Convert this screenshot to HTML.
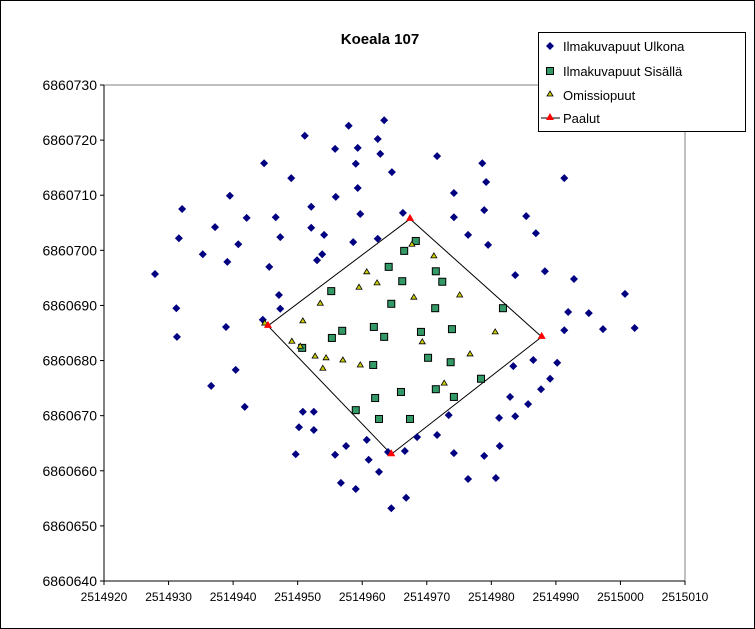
<!DOCTYPE html>
<html><head><meta charset="utf-8"><style>
html,body{margin:0;padding:0;background:#fff;}
svg{display:block;font-family:"Liberation Sans",Arial,sans-serif;}
</style></head><body>
<svg id="chart" width="755" height="629" viewBox="0 0 755 629">
<rect x="0.5" y="0.5" width="754" height="628" fill="#fff" stroke="#000"/>
<text x="380" y="44" text-anchor="middle" font-size="15" font-weight="bold">Koeala 107</text>
<rect x="104" y="85" width="581" height="496" fill="#fff" stroke="#808080"/>
<g id="axes"></g>
<g id="marks"></g>
<g>
<rect x="538.5" y="32.5" width="207" height="99" fill="#fff" stroke="#000"/>
<g><path d="M550,42 l4,4 l-4,4 l-4,-4z" fill="#000080"/><text x="563" y="51" font-size="13">Ilmakuvapuut Ulkona</text></g>
<g><rect x="546.5" y="67.5" width="7" height="7" fill="#339966" stroke="#000"/><text x="563" y="76" font-size="13">Ilmakuvapuut Sisällä</text></g>
<g><path d="M550,91 l3,5 l-6,0z" fill="#cccc00" stroke="#000" stroke-width="0.8"/><text x="563" y="100" font-size="13">Omissiopuut</text></g>
<g><line x1="541" y1="118" x2="560" y2="118" stroke="#000"/><path d="M550,113 l4,7 l-8,0z" fill="#f00"/><text x="563" y="123" font-size="13">Paalut</text></g>
</g>
</svg>
<script>
const xTicks=[2514920,2514930,2514940,2514950,2514960,2514970,2514980,2514990,2515000,2515010];
const yTicks=[6860640,6860650,6860660,6860670,6860680,6860690,6860700,6860710,6860720,6860730];
const ulkonaX=[2514963.4,2514957.9,2514951.1,2514962.4,2514955.8,2514959.3,2514962.8,2514944.8,2514959.0,2514964.6,2514949.0,2514959.3,2514939.5,2514955.9,2514932.1,2514952.1,2514959.7,2514942.1,2514946.6,2514937.2,2514931.6,2514947.3,2514952.1,2514954.1,2514958.6,2514962.4,2514940.8,2514935.3,2514939.1,2514953.8,2514953.0,2514945.6,2514927.9,2514947.1,2514931.2,2514947.3,2514944.6,2514938.9,2514931.3,2514971.6,2514978.6,2514979.2,2514991.3,2514974.2,2514966.3,2514974.2,2514978.9,2514985.4,2514986.9,2514976.4,2514979.5,2514983.7,2514988.3,2514992.8,2515000.7,2514991.9,2514995.1,2514991.3,2514997.3,2515002.2,2514940.4,2514936.6,2514941.8,2514950.8,2514952.5,2514950.2,2514952.5,2514960.7,2514957.5,2514949.7,2514955.8,2514961.0,2514964.0,2514962.6,2514956.7,2514959.0,2514964.5,2514986.5,2514990.2,2514983.4,2514989.1,2514987.7,2514982.9,2514985.7,2514981.2,2514983.7,2514973.4,2514968.5,2514971.6,2514966.6,2514974.2,2514978.9,2514981.3,2514976.4,2514980.7,2514966.8];
const ulkonaY=[6860723.6,6860722.6,6860720.8,6860720.2,6860718.4,6860718.6,6860717.5,6860715.8,6860715.7,6860714.2,6860713.1,6860711.3,6860709.9,6860709.7,6860707.5,6860707.9,6860706.6,6860705.9,6860706.0,6860704.2,6860702.2,6860702.4,6860704.1,6860702.8,6860701.5,6860702.1,6860701.1,6860699.3,6860697.9,6860699.3,6860698.2,6860697.0,6860695.7,6860691.9,6860689.5,6860689.4,6860687.4,6860686.1,6860684.3,6860717.1,6860715.8,6860712.4,6860713.1,6860710.4,6860706.8,6860706.0,6860707.3,6860706.2,6860703.1,6860702.8,6860701.0,6860695.5,6860696.2,6860694.8,6860692.1,6860688.8,6860688.6,6860685.5,6860685.7,6860685.9,6860678.3,6860675.4,6860671.6,6860670.7,6860670.7,6860667.9,6860667.4,6860665.6,6860664.5,6860663.0,6860662.9,6860662.0,6860663.4,6860659.8,6860657.8,6860656.7,6860653.2,6860680.1,6860679.6,6860679.0,6860676.7,6860674.8,6860673.4,6860672.1,6860669.6,6860669.9,6860670.1,6860666.1,6860666.5,6860663.6,6860663.2,6860662.7,6860664.5,6860658.5,6860658.7,6860655.1];
const sisallaX=[2514964.1,2514955.2,2514964.5,2514956.9,2514961.8,2514963.4,2514955.3,2514968.3,2514966.5,2514971.4,2514966.2,2514972.4,2514971.3,2514981.8,2514969.1,2514973.9,2514950.7,2514961.7,2514962.0,2514959.0,2514962.6,2514970.2,2514973.7,2514978.4,2514966.0,2514971.4,2514974.2,2514967.4];
const sisallaY=[6860697.0,6860692.6,6860690.3,6860685.4,6860686.1,6860684.3,6860684.1,6860701.7,6860699.9,6860696.2,6860694.4,6860694.3,6860689.5,6860689.5,6860685.2,6860685.7,6860682.3,6860679.2,6860673.2,6860671.0,6860669.4,6860680.5,6860679.7,6860676.7,6860674.3,6860674.8,6860673.4,6860669.4];
const omissioX=[2514960.7,2514962.3,2514959.5,2514953.5,2514950.8,2514944.9,2514967.7,2514971.1,2514968.0,2514975.1,2514980.6,2514949.1,2514950.4,2514952.7,2514954.4,2514957.0,2514953.9,2514959.7,2514969.3,2514976.7,2514972.7];
const omissioY=[6860696.1,6860694.1,6860693.3,6860690.4,6860687.2,6860686.8,6860701.1,6860699.0,6860691.5,6860691.9,6860685.2,6860683.5,6860682.6,6860680.8,6860680.5,6860680.1,6860678.6,6860679.2,6860683.4,6860681.2,6860675.9];
const paalutX=[2514967.4,2514987.8,2514964.5,2514945.4,2514967.4];
const paalutY=[6860705.7,6860684.3,6860663.0,6860686.3,6860705.7];

const NS='http://www.w3.org/2000/svg';
const X0=104,X1=685,Y0=581,Y1=85;
const xMin=2514920,xMax=2515010,yMin=6860640,yMax=6860730;
function sx(v){return X0+(v-xMin)/(xMax-xMin)*(X1-X0);}
function sy(v){return Y0-(v-yMin)/(yMax-yMin)*(Y0-Y1);}
function mk(tag,attrs,parent){const e=document.createElementNS(NS,tag);for(const k in attrs)e.setAttribute(k,attrs[k]);parent.appendChild(e);return e;}
const axes=document.getElementById('axes'),marks=document.getElementById('marks');
xTicks.forEach(t=>{
 const l=mk('line',{x1:sx(t),x2:sx(t),y1:581,y2:585,stroke:'#000'},axes);
 
 
 const tx=mk('text',{x:sx(t),y:601,'text-anchor':'middle','font-size':'12'},axes);
 tx.textContent=t;
 
 
});
yTicks.forEach(t=>{
 const l=mk('line',{x1:100,x2:104,y1:sy(t),y2:sy(t),stroke:'#000'},axes);
 
 
 const tx=mk('text',{x:97,y:sy(t)+5,'text-anchor':'end','font-size':'14'},axes);
 tx.textContent=t;
 
 
});
mk('line',{x1:104,x2:104,y1:85,y2:581,stroke:'#000'},axes);
mk('line',{x1:104,x2:685,y1:581,y2:581,stroke:'#000'},axes);
// poles line
let d='';paalutX.forEach((v,i)=>{d+=(i?'L':'M')+sx(v)+','+sy(paalutY[i]);});
const pl=mk('path',{d:d,fill:'none',stroke:'#000','stroke-width':'1'},marks);


ulkonaX.forEach((v,i)=>{
 const x=sx(v),y=sy(ulkonaY[i]);
 const p=mk('path',{d:`M${x},${y-4}l4,4l-4,4l-4,-4z`,fill:'#000080'},marks);
 
 
});
sisallaX.forEach((v,i)=>{
 const x=sx(v),y=sy(sisallaY[i]);
 const p=mk('rect',{x:x-3.5,y:y-3.5,width:7,height:7,fill:'#339966',stroke:'#000'},marks);
 
 
});
omissioX.forEach((v,i)=>{
 const x=sx(v),y=sy(omissioY[i]);
 const p=mk('path',{d:`M${x},${y-3}l3,5l-6,0z`,fill:'#cccc00',stroke:'#000','stroke-width':'0.8'},marks);
 
 
});
paalutX.slice(0,4).forEach((v,i)=>{
 const x=sx(v),y=sy(paalutY[i]);
 const p=mk('path',{d:`M${x},${y-5}l4,7l-8,0z`,fill:'#ff0000'},marks);
 
 
});
</script>
</body></html>
